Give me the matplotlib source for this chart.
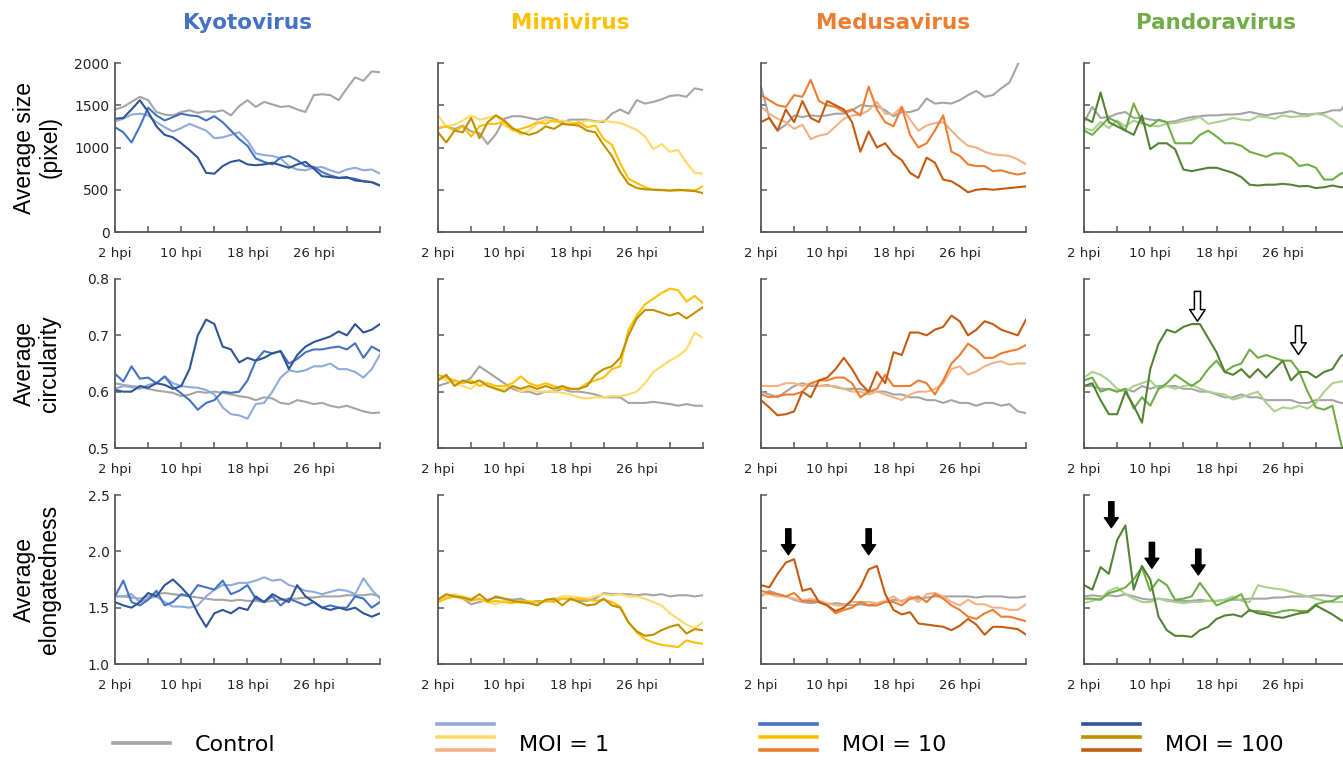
import matplotlib
matplotlib.use("Agg")
import matplotlib.pyplot as plt
from matplotlib.lines import Line2D

# time axis (hours post infection), one reading per hour
hours = list(range(2, 35))

# ---------------- Kyotovirus ----------------
kyoto_size_ctrl = [1450,1480,1540,1600,1560,1420,1390,1380,1420,1440,1410,1430,1420,1440,1380,1490,1560,1480,1540,1510,1480,1490,1450,1420,1620,1630,1620,1560,1700,1830,1790,1900,1890]
kyoto_size_moi1 = [1310,1340,1390,1400,1380,1300,1240,1190,1230,1280,1240,1200,1110,1120,1150,1180,1080,930,910,900,870,780,740,730,760,770,730,700,740,760,730,740,690]
kyoto_size_moi10 = [1240,1180,1060,1250,1470,1380,1320,1360,1400,1380,1370,1320,1370,1300,1200,1100,1020,870,830,800,880,900,850,780,770,710,670,640,640,630,600,590,550]
kyoto_size_moi100 = [1340,1350,1450,1560,1420,1250,1150,1120,1050,970,880,700,690,780,830,850,800,790,800,820,790,760,800,830,750,660,650,640,650,610,600,590,550]

kyoto_circ_ctrl = [0.615,0.612,0.61,0.608,0.605,0.602,0.60,0.598,0.592,0.595,0.60,0.598,0.60,0.598,0.595,0.592,0.59,0.585,0.59,0.588,0.58,0.578,0.585,0.582,0.578,0.58,0.575,0.572,0.575,0.57,0.565,0.562,0.563]
kyoto_circ_moi1 = [0.605,0.61,0.608,0.605,0.612,0.615,0.627,0.615,0.61,0.608,0.607,0.603,0.595,0.572,0.56,0.558,0.552,0.578,0.58,0.60,0.625,0.638,0.635,0.638,0.645,0.645,0.65,0.64,0.64,0.635,0.625,0.64,0.666]
kyoto_circ_moi10 = [0.632,0.618,0.645,0.623,0.625,0.615,0.627,0.608,0.597,0.585,0.568,0.58,0.585,0.60,0.598,0.60,0.62,0.655,0.672,0.668,0.672,0.65,0.658,0.67,0.675,0.675,0.678,0.68,0.675,0.686,0.66,0.68,0.672]
kyoto_circ_moi100 = [0.603,0.60,0.60,0.61,0.607,0.615,0.612,0.605,0.61,0.64,0.70,0.728,0.72,0.68,0.675,0.652,0.66,0.655,0.66,0.668,0.672,0.64,0.665,0.68,0.688,0.693,0.698,0.707,0.70,0.72,0.705,0.71,0.72]

kyoto_elong_ctrl = [1.60,1.60,1.59,1.58,1.60,1.62,1.63,1.62,1.61,1.60,1.59,1.58,1.57,1.57,1.56,1.57,1.56,1.56,1.55,1.56,1.57,1.58,1.58,1.59,1.59,1.60,1.60,1.60,1.61,1.61,1.61,1.62,1.60]
kyoto_elong_moi1 = [1.60,1.60,1.62,1.55,1.58,1.60,1.55,1.51,1.51,1.50,1.52,1.60,1.66,1.70,1.70,1.72,1.72,1.74,1.77,1.74,1.75,1.70,1.68,1.65,1.64,1.62,1.64,1.66,1.65,1.62,1.76,1.66,1.58]
kyoto_elong_moi10 = [1.60,1.74,1.55,1.52,1.57,1.65,1.52,1.55,1.62,1.60,1.70,1.68,1.66,1.74,1.62,1.65,1.70,1.58,1.55,1.60,1.52,1.58,1.55,1.52,1.55,1.50,1.52,1.50,1.50,1.60,1.58,1.50,1.55]
kyoto_elong_moi100 = [1.55,1.52,1.50,1.55,1.63,1.60,1.70,1.75,1.68,1.60,1.45,1.33,1.45,1.48,1.45,1.50,1.48,1.60,1.55,1.62,1.58,1.55,1.70,1.60,1.55,1.50,1.48,1.50,1.48,1.50,1.45,1.42,1.45]

# ---------------- Mimivirus ----------------
mimi_size_ctrl = [1230,1250,1220,1260,1190,1170,1040,1160,1340,1370,1370,1350,1330,1360,1340,1300,1330,1330,1330,1310,1300,1400,1450,1400,1560,1520,1540,1570,1610,1620,1600,1700,1680]
mimi_size_moi1 = [1380,1250,1270,1320,1380,1330,1350,1380,1260,1220,1150,1200,1280,1330,1300,1320,1300,1280,1320,1300,1320,1300,1290,1250,1210,1130,980,1040,950,970,820,700,690]
mimi_size_moi10 = [1230,1250,1200,1250,1130,1250,1280,1280,1300,1200,1220,1250,1300,1280,1330,1280,1270,1300,1240,1260,1100,1030,813,630,580,530,500,500,490,490,500,490,540]
mimi_size_moi100 = [1180,1060,1200,1180,1350,1110,1300,1380,1320,1230,1180,1150,1180,1250,1220,1280,1270,1260,1200,1180,1030,900,710,570,520,505,500,495,490,500,490,485,460]

mimi_circ_ctrl = [0.61,0.615,0.62,0.615,0.625,0.645,0.635,0.625,0.615,0.605,0.60,0.60,0.595,0.60,0.60,0.605,0.60,0.60,0.598,0.595,0.59,0.59,0.59,0.58,0.58,0.58,0.582,0.58,0.578,0.575,0.578,0.575,0.575]
mimi_circ_moi1 = [0.625,0.62,0.615,0.61,0.605,0.62,0.615,0.605,0.605,0.61,0.60,0.605,0.60,0.60,0.60,0.598,0.595,0.59,0.588,0.59,0.59,0.592,0.592,0.595,0.60,0.615,0.635,0.645,0.655,0.663,0.675,0.705,0.695]
mimi_circ_moi10 = [0.63,0.625,0.62,0.615,0.62,0.61,0.615,0.61,0.61,0.615,0.627,0.615,0.61,0.615,0.61,0.605,0.605,0.605,0.615,0.62,0.625,0.64,0.645,0.71,0.735,0.755,0.765,0.775,0.783,0.78,0.76,0.77,0.757]
mimi_circ_moi100 = [0.62,0.63,0.61,0.62,0.615,0.62,0.61,0.605,0.60,0.61,0.605,0.61,0.605,0.61,0.605,0.61,0.605,0.605,0.61,0.63,0.64,0.645,0.66,0.70,0.73,0.745,0.745,0.74,0.735,0.74,0.73,0.74,0.75]

mimi_elong_ctrl = [1.58,1.60,1.60,1.58,1.53,1.55,1.57,1.59,1.58,1.57,1.58,1.55,1.56,1.55,1.57,1.58,1.58,1.56,1.56,1.58,1.63,1.62,1.62,1.62,1.61,1.62,1.61,1.62,1.60,1.61,1.61,1.60,1.61]
mimi_elong_moi1 = [1.55,1.60,1.62,1.60,1.58,1.57,1.55,1.53,1.56,1.55,1.54,1.56,1.55,1.55,1.58,1.60,1.60,1.59,1.58,1.60,1.62,1.61,1.62,1.60,1.60,1.58,1.55,1.52,1.45,1.40,1.35,1.32,1.37]
mimi_elong_moi10 = [1.55,1.58,1.60,1.58,1.56,1.58,1.55,1.56,1.55,1.54,1.56,1.55,1.55,1.56,1.55,1.58,1.57,1.58,1.57,1.56,1.57,1.55,1.51,1.37,1.28,1.22,1.19,1.17,1.16,1.15,1.21,1.19,1.18]
mimi_elong_moi100 = [1.57,1.62,1.60,1.59,1.57,1.62,1.56,1.60,1.58,1.56,1.55,1.54,1.52,1.57,1.58,1.52,1.58,1.55,1.52,1.53,1.58,1.52,1.50,1.37,1.29,1.25,1.26,1.30,1.33,1.35,1.27,1.31,1.30]

# ---------------- Medusavirus ----------------
medusa_size_ctrl = [1720,1350,1200,1270,1380,1360,1380,1370,1380,1400,1400,1440,1500,1490,1490,1440,1370,1420,1420,1450,1580,1520,1530,1520,1560,1620,1670,1600,1620,1700,1770,1980,2200]
medusa_size_moi1 = [1480,1400,1340,1300,1220,1270,1100,1140,1160,1250,1340,1380,1390,1440,1540,1400,1390,1480,1330,1200,1260,1290,1300,1200,1100,1020,1000,950,920,910,900,860,800]
medusa_size_moi10 = [1620,1560,1500,1480,1620,1600,1800,1550,1500,1480,1420,1450,1380,1720,1450,1300,1250,1480,1150,1000,1050,1200,1380,950,900,800,780,780,720,730,700,680,700]
medusa_size_moi100 = [1300,1350,1200,1450,1300,1550,1350,1300,1550,1500,1450,1300,950,1190,1000,1050,920,850,700,640,880,820,620,600,540,470,500,510,500,510,520,530,540]

medusa_circ_ctrl = [0.60,0.595,0.59,0.60,0.61,0.615,0.61,0.61,0.612,0.608,0.605,0.605,0.605,0.60,0.60,0.60,0.595,0.595,0.59,0.59,0.585,0.585,0.58,0.585,0.58,0.58,0.575,0.58,0.58,0.575,0.578,0.565,0.562]
medusa_circ_moi1 = [0.61,0.61,0.61,0.615,0.615,0.61,0.615,0.61,0.61,0.61,0.605,0.60,0.60,0.595,0.60,0.595,0.59,0.585,0.595,0.60,0.60,0.605,0.615,0.64,0.645,0.63,0.636,0.645,0.651,0.654,0.648,0.65,0.65]
medusa_circ_moi10 = [0.595,0.59,0.592,0.595,0.595,0.60,0.615,0.62,0.62,0.625,0.625,0.615,0.59,0.60,0.605,0.63,0.61,0.61,0.61,0.62,0.615,0.595,0.62,0.65,0.665,0.685,0.675,0.66,0.66,0.668,0.672,0.675,0.683]
medusa_circ_moi100 = [0.585,0.572,0.558,0.56,0.565,0.60,0.59,0.62,0.625,0.64,0.66,0.64,0.615,0.60,0.635,0.615,0.67,0.665,0.705,0.705,0.70,0.71,0.715,0.735,0.725,0.70,0.71,0.725,0.72,0.71,0.705,0.70,0.728]

medusa_elong_ctrl = [1.60,1.65,1.62,1.60,1.57,1.55,1.54,1.55,1.53,1.54,1.53,1.52,1.53,1.52,1.54,1.55,1.57,1.56,1.58,1.58,1.59,1.60,1.60,1.60,1.60,1.60,1.59,1.60,1.60,1.60,1.59,1.59,1.60]
medusa_elong_moi1 = [1.62,1.62,1.60,1.60,1.58,1.56,1.58,1.56,1.54,1.52,1.52,1.55,1.55,1.55,1.54,1.56,1.60,1.55,1.60,1.55,1.62,1.63,1.60,1.55,1.52,1.57,1.53,1.53,1.50,1.50,1.48,1.48,1.53]
medusa_elong_moi10 = [1.65,1.63,1.62,1.60,1.63,1.56,1.56,1.55,1.52,1.45,1.48,1.50,1.55,1.52,1.52,1.55,1.55,1.52,1.58,1.60,1.55,1.62,1.58,1.52,1.48,1.42,1.40,1.45,1.48,1.42,1.42,1.40,1.38]
medusa_elong_moi100 = [1.70,1.68,1.80,1.90,1.93,1.65,1.67,1.55,1.52,1.47,1.50,1.57,1.68,1.84,1.87,1.62,1.48,1.44,1.46,1.36,1.35,1.34,1.33,1.30,1.34,1.40,1.35,1.26,1.33,1.33,1.32,1.31,1.26]

# ---------------- Pandoravirus ----------------
pandora_size_ctrl = [1300,1480,1350,1360,1400,1420,1350,1350,1330,1320,1300,1310,1340,1360,1370,1380,1380,1390,1390,1400,1420,1400,1380,1400,1410,1430,1400,1390,1400,1410,1440,1440,1580]
pandora_size_moi1 = [1230,1200,1300,1230,1320,1250,1320,1280,1260,1250,1280,1290,1310,1330,1360,1280,1300,1320,1350,1330,1320,1370,1360,1340,1380,1360,1370,1370,1400,1380,1330,1250,1240]
pandora_size_moi10 = [1200,1150,1250,1350,1300,1200,1520,1300,1250,1330,1300,1050,1050,1050,1150,1200,1130,1050,1050,1020,950,920,890,930,930,880,780,800,760,620,620,690,720]
pandora_size_moi100 = [1350,1300,1650,1300,1250,1200,1150,1380,980,1050,1050,980,740,720,740,760,760,730,700,650,560,550,560,560,570,560,540,545,520,530,550,530,540]

pandora_circ_ctrl = [0.61,0.61,0.605,0.605,0.60,0.605,0.60,0.61,0.605,0.61,0.61,0.61,0.605,0.605,0.60,0.60,0.595,0.59,0.59,0.595,0.59,0.59,0.585,0.585,0.585,0.585,0.58,0.58,0.585,0.585,0.585,0.58,0.58]
pandora_circ_moi1 = [0.625,0.635,0.63,0.62,0.605,0.60,0.61,0.615,0.62,0.605,0.61,0.605,0.61,0.612,0.605,0.60,0.597,0.595,0.586,0.59,0.595,0.60,0.58,0.565,0.572,0.57,0.575,0.57,0.58,0.60,0.615,0.618,0.62]
pandora_circ_moi10 = [0.62,0.625,0.60,0.605,0.60,0.605,0.57,0.59,0.575,0.605,0.615,0.63,0.62,0.61,0.62,0.64,0.655,0.635,0.645,0.65,0.675,0.66,0.665,0.66,0.655,0.655,0.635,0.60,0.572,0.568,0.575,0.51,0.46]
pandora_circ_moi100 = [0.61,0.615,0.585,0.56,0.56,0.60,0.575,0.545,0.64,0.685,0.71,0.705,0.715,0.72,0.72,0.695,0.67,0.635,0.63,0.64,0.625,0.64,0.625,0.64,0.655,0.62,0.635,0.635,0.625,0.635,0.64,0.663,0.67]

pandora_elong_ctrl = [1.60,1.61,1.60,1.61,1.60,1.62,1.60,1.58,1.57,1.58,1.57,1.56,1.56,1.56,1.57,1.56,1.56,1.57,1.57,1.57,1.58,1.58,1.58,1.59,1.59,1.60,1.60,1.60,1.61,1.61,1.60,1.60,1.61]
pandora_elong_moi1 = [1.54,1.56,1.58,1.65,1.68,1.62,1.58,1.55,1.55,1.58,1.56,1.55,1.54,1.55,1.55,1.56,1.56,1.57,1.60,1.56,1.55,1.70,1.68,1.67,1.66,1.64,1.62,1.60,1.58,1.56,1.55,1.55,1.55]
pandora_elong_moi10 = [1.58,1.58,1.57,1.63,1.65,1.68,1.75,1.86,1.65,1.75,1.70,1.57,1.58,1.60,1.72,1.62,1.52,1.55,1.58,1.62,1.47,1.47,1.46,1.45,1.47,1.48,1.47,1.47,1.53,1.55,1.56,1.60,1.62]
pandora_elong_moi100 = [1.70,1.66,1.86,1.80,2.10,2.23,1.66,1.87,1.75,1.42,1.30,1.25,1.25,1.24,1.30,1.33,1.40,1.43,1.44,1.42,1.48,1.45,1.44,1.42,1.41,1.43,1.45,1.46,1.52,1.48,1.44,1.39,1.37]

viruses = ["Kyotovirus", "Mimivirus", "Medusavirus", "Pandoravirus"]
metrics = ["size", "circ", "elong"]
ylabels = ["Average size\n(pixel)", "Average\ncircularity", "Average\nelongatedness"]
yticks = {"size": [0, 500, 1000, 1500, 2000],
          "circ": [0.5, 0.6, 0.7, 0.8],
          "elong": [1.0, 1.5, 2.0, 2.5]}
ytick_labels = {"size": ["0", "500", "1000", "1500", "2000"],
                "circ": ["0.5", "0.6", "0.7", "0.8"],
                "elong": ["1.0", "1.5", "2.0", "2.5"]}
xtick_pos = list(range(2, 35, 4))
xtick_labels = ["2 hpi", "", "10 hpi", "", "18 hpi", "", "26 hpi", "", ""]

series = {
    ("Kyotovirus", "size"): (kyoto_size_ctrl, kyoto_size_moi1, kyoto_size_moi10, kyoto_size_moi100),
    ("Kyotovirus", "circ"): (kyoto_circ_ctrl, kyoto_circ_moi1, kyoto_circ_moi10, kyoto_circ_moi100),
    ("Kyotovirus", "elong"): (kyoto_elong_ctrl, kyoto_elong_moi1, kyoto_elong_moi10, kyoto_elong_moi100),
    ("Mimivirus", "size"): (mimi_size_ctrl, mimi_size_moi1, mimi_size_moi10, mimi_size_moi100),
    ("Mimivirus", "circ"): (mimi_circ_ctrl, mimi_circ_moi1, mimi_circ_moi10, mimi_circ_moi100),
    ("Mimivirus", "elong"): (mimi_elong_ctrl, mimi_elong_moi1, mimi_elong_moi10, mimi_elong_moi100),
    ("Medusavirus", "size"): (medusa_size_ctrl, medusa_size_moi1, medusa_size_moi10, medusa_size_moi100),
    ("Medusavirus", "circ"): (medusa_circ_ctrl, medusa_circ_moi1, medusa_circ_moi10, medusa_circ_moi100),
    ("Medusavirus", "elong"): (medusa_elong_ctrl, medusa_elong_moi1, medusa_elong_moi10, medusa_elong_moi100),
    ("Pandoravirus", "size"): (pandora_size_ctrl, pandora_size_moi1, pandora_size_moi10, pandora_size_moi100),
    ("Pandoravirus", "circ"): (pandora_circ_ctrl, pandora_circ_moi1, pandora_circ_moi10, pandora_circ_moi100),
    ("Pandoravirus", "elong"): (pandora_elong_ctrl, pandora_elong_moi1, pandora_elong_moi10, pandora_elong_moi100),
}

ctrl_color = "#A5A5A5"
# light (MOI 1), medium (MOI 10), dark (MOI 100)
palette = {
    "Kyotovirus": ("#8FAADC", "#4472C4", "#2F5597"),
    "Mimivirus": ("#FFD966", "#FFC000", "#BF9000"),
    "Medusavirus": ("#F4B183", "#ED7D31", "#C55A11"),
    "Pandoravirus": ("#A9D18E", "#70AD47", "#548235"),
}
title_colors = {"Kyotovirus": "#4472C4", "Mimivirus": "#FFC000",
                "Medusavirus": "#ED7D31", "Pandoravirus": "#70AD47"}

# arrows marking events: (virus, metric, hour, tail y, tip y, filled)
arrows = [
    ("Medusavirus", "elong", 5.3, 2.20, 1.97, True),
    ("Medusavirus", "elong", 15.0, 2.20, 1.97, True),
    ("Pandoravirus", "elong", 5.3, 2.44, 2.21, True),
    ("Pandoravirus", "elong", 10.2, 2.08, 1.85, True),
    ("Pandoravirus", "elong", 15.8, 2.02, 1.79, True),
    ("Pandoravirus", "circ", 15.7, 0.778, 0.725, False),
    ("Pandoravirus", "circ", 27.9, 0.717, 0.666, False),
]

W, H = 1343, 762
fig = plt.figure(figsize=(W / 100, H / 100), dpi=100)

col_left = [115, 438, 761, 1084]
row_top = [63, 279, 495]
pw, ph = 265, 169
axis_color = "#595959"

axes = {}
for r, m in enumerate(metrics):
    for c, v in enumerate(viruses):
        ax = fig.add_axes([col_left[c] / W, 1 - (row_top[r] + ph) / H, pw / W, ph / H])
        axes[(v, m)] = ax
        ctrl, s1, s10, s100 = series[(v, m)]
        light, mid, dark = palette[v]
        ax.plot(hours, ctrl, color=ctrl_color, lw=1.5)
        ax.plot(hours, s1, color=light, lw=1.5)
        ax.plot(hours, s10, color=mid, lw=1.5)
        ax.plot(hours, s100, color=dark, lw=1.5)

        ax.set_xlim(2, 34)
        ax.set_ylim(yticks[m][0], yticks[m][-1])
        ax.set_xticks(xtick_pos)
        ax.set_xticklabels(xtick_labels, fontsize=9.5, color="#222222")
        ax.set_yticks(yticks[m])
        if c == 0:
            ax.set_yticklabels(ytick_labels[m], fontsize=10, color="#222222")
        else:
            ax.set_yticklabels([])
        for side in ["top", "right"]:
            ax.spines[side].set_visible(False)
        for side in ["left", "bottom"]:
            ax.spines[side].set_color(axis_color)
            ax.spines[side].set_linewidth(1.3)
        ax.tick_params(direction="in", length=4, width=1.1, color=axis_color)
        ax.tick_params(axis="x", pad=11)
        ax.tick_params(axis="y", pad=4)
        ax.set_facecolor("none")

for v, m, hx, y0, y1, filled in arrows:
    ax = axes[(v, m)]
    if filled:
        style = "simple,head_length=0.36,head_width=0.5,tail_width=0.19"
        ax.annotate("", xy=(hx, y1), xytext=(hx, y0),
                    arrowprops=dict(arrowstyle=style, fc="black", ec="black",
                                    shrinkA=0, shrinkB=0, mutation_scale=20))
    else:
        style = "simple,head_length=0.42,head_width=0.56,tail_width=0.22"
        ax.annotate("", xy=(hx, y1), xytext=(hx, y0),
                    arrowprops=dict(arrowstyle=style, fc="white", ec="black", lw=1.1,
                                    shrinkA=0, shrinkB=0, mutation_scale=20))

# column titles
for c, v in enumerate(viruses):
    fig.text((col_left[c] + pw / 2) / W, 1 - 23 / H, v, ha="center", va="center",
             fontsize=15.5, fontweight="bold", color=title_colors[v], family="DejaVu Sans")

# row labels
for r, lab in enumerate(ylabels):
    fig.text(37 / W, 1 - (row_top[r] + ph / 2) / H, lab, rotation=90, ha="center",
             va="center", multialignment="center", fontsize=16.5,
             family="Liberation Sans", linespacing=1.15)

# legend drawn along the bottom
fig.add_artist(Line2D([113 / W, 170 / W], [1 - 743 / H] * 2, color=ctrl_color, lw=2.6))
fig.text(195 / W, 1 - 745 / H, "Control", ha="left", va="center", fontsize=16)
legend_x = [437, 760, 1083]
legend_text = ["MOI = 1", "MOI = 10", "MOI = 100"]
for k in range(3):
    x0 = legend_x[k]
    for j, yy in enumerate([724, 737, 750]):
        col = palette[["Kyotovirus", "Mimivirus", "Medusavirus"][j]][k]
        fig.add_artist(Line2D([x0 / W, (x0 + 57) / W], [1 - yy / H] * 2, color=col, lw=2.6))
    fig.text((x0 + 82) / W, 1 - 745 / H, legend_text[k], ha="left", va="center", fontsize=16)

fig.savefig("out.png", dpi=100)
